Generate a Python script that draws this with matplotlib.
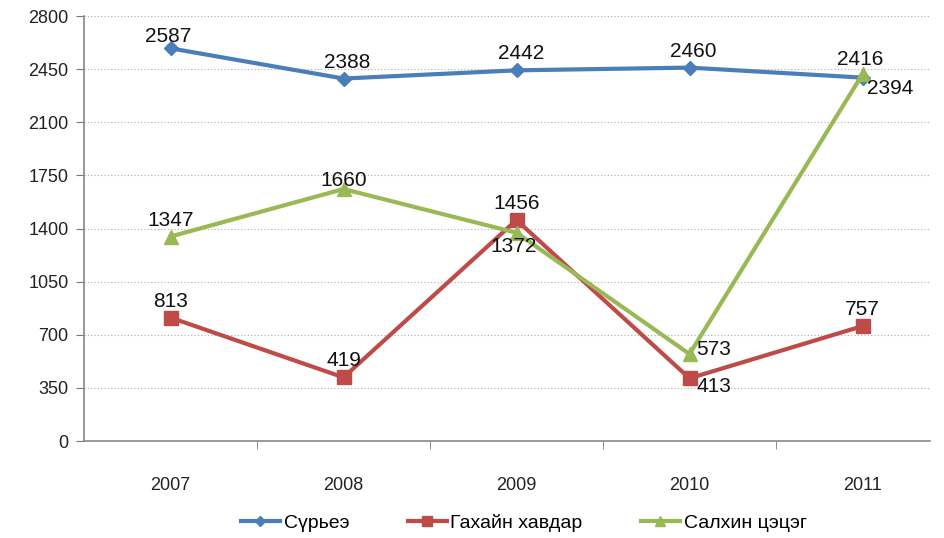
import matplotlib
matplotlib.use("Agg")
import matplotlib.pyplot as plt
from matplotlib.ticker import FixedLocator

years = ["2007", "2008", "2009", "2010", "2011"]
surye = [2587, 2388, 2442, 2460, 2394]
gahai = [813, 419, 1456, 413, 757]
salkhin = [1347, 1660, 1372, 573, 2416]
names = ["Сүрьеэ", "Гахайн хавдар", "Салхин цэцэг"]
yticks = [0, 350, 700, 1050, 1400, 1750, 2100, 2450, 2800]

plt.rcParams['font.family'] = ['Liberation Sans', 'DejaVu Sans']

fig = plt.figure(figsize=(9.44, 5.38), dpi=100)
W, H = 944, 538
ax = fig.add_axes([84 / W, 1 - 441 / H, (930 - 84) / W, (441 - 16) / H])

x = list(range(len(years)))
c_blue, c_red, c_green = "#4a7ebb", "#be4b48", "#98b954"
ax.plot(x, surye, color=c_blue, lw=3, marker="D", ms=7, label=names[0], zorder=3)
ax.plot(x, gahai, color=c_red, lw=3, marker="s", ms=10, label=names[1], zorder=3)
ax.plot(x, salkhin, color=c_green, lw=3, marker="^", ms=10, label=names[2], zorder=4)

ax.set_xlim(-0.5, -0.5 + 846 / 173)
ax.set_ylim(0, 2800)
ax.set_yticks(yticks)
ax.set_yticklabels([str(v) for v in yticks])
ax.yaxis.grid(True, linestyle=(0, (1, 2)), color="#aaaaaa", lw=0.8)
ax.set_axisbelow(True)

ax.set_xticks(x)
ax.set_xticklabels(years)
ax.xaxis.set_minor_locator(FixedLocator([i + 0.5 for i in range(len(years) - 1)]))
ax.tick_params(axis="x", which="major", length=0, pad=26, labelsize=13, colors="#222222")
ax.tick_params(axis="x", which="minor", length=6, color="#777777")
ax.tick_params(axis="y", length=6, color="#777777", labelsize=13, labelcolor="#222222", pad=5)

for s in ["top", "right"]:
    ax.spines[s].set_visible(False)
for s in ["left", "bottom"]:
    ax.spines[s].set_color("#888888")
    ax.spines[s].set_linewidth(1.2)

fs = 15
def lab(xi, yi, txt, dx, dy, ha="center", va="bottom"):
    ax.annotate(txt, (xi, yi), xytext=(dx, dy), textcoords="offset points",
                ha=ha, va=va, fontsize=fs, color="#111111", zorder=5)

for i, v in enumerate(surye):
    if i == 4:
        lab(i, v, str(v), 3, -1, ha="left", va="top")
    elif i == 0:
        lab(i, v, str(v), -2, 2)
    else:
        lab(i, v, str(v), 3, 5)
for i, v in enumerate(gahai):
    if i == 3:
        lab(i, v, str(v), 5, 1, ha="left", va="top")
    else:
        lab(i, v, str(v), 0, 5)
for i, v in enumerate(salkhin):
    if i == 2:
        lab(i, v, str(v), -2, -3, va="top")
    elif i == 3:
        lab(i, v, str(v), 5, 3, ha="left", va="center")
    elif i == 4:
        lab(i, v, str(v), -2, 4)
    elif i == 1:
        lab(i, v, str(v), 0, -1)
    else:
        lab(i, v, str(v), 0, 5)

fig.legend(loc="center", bbox_to_anchor=(0.555, 1 - 523 / H), ncol=3, frameon=False,
           fontsize=14, handlelength=2.0, columnspacing=3.0, handletextpad=0.2,
           markerscale=0.7)

fig.savefig("out.png", dpi=100)
